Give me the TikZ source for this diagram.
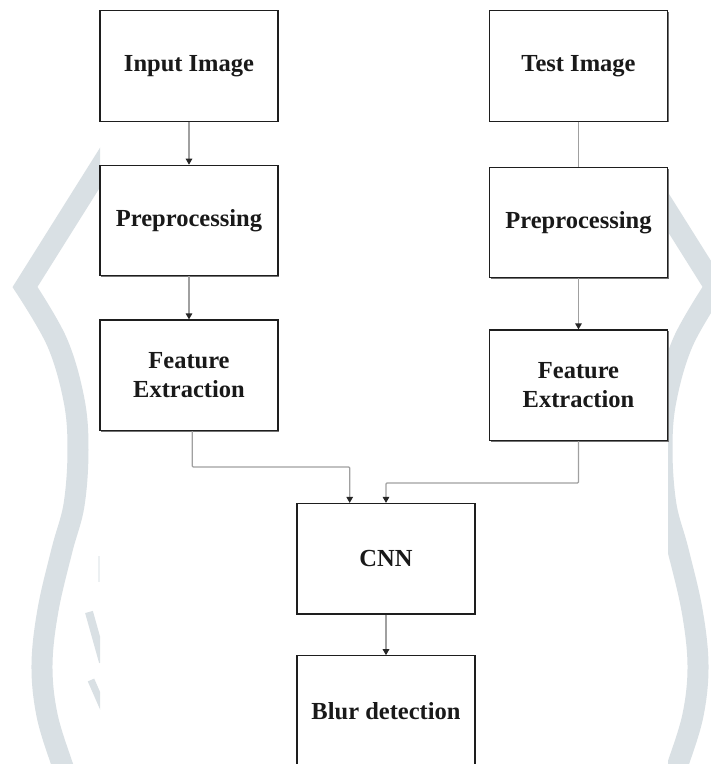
\documentclass[tikz,border=0pt]{standalone}
\usepackage{fontspec}
\setmainfont{Liberation Serif}
\usetikzlibrary{arrows.meta,shadows}
\definecolor{wmark}{RGB}{217,224,228}
\definecolor{wmarklight}{RGB}{236,240,242}
\definecolor{linkgray}{RGB}{160,160,160}
\definecolor{boxline}{RGB}{30,30,30}

\begin{document}
\begin{tikzpicture}[x=1pt,y=-1pt,
  stage/.style={draw=boxline, line width=1.1pt, fill=white,
    minimum width=178pt, minimum height=110.5pt, inner sep=0pt,
    align=center, font=\fontsize{24.5}{29}\selectfont\bfseries, text=black!90,
    drop shadow={shadow xshift=1.3pt, shadow yshift=-1.3pt, fill=black!55, opacity=1}},
  link/.style={draw=linkgray, line width=1.2pt, rounded corners=1pt},
  arr/.style={link, -{Triangle[width=6.5pt,length=6pt,color=black!85]}},
  band/.style={draw=wmark, line width=21pt, line join=miter, miter limit=10}
]
% page
\fill[white] (0,0) rectangle (711,764);
\useasboundingbox (0,0) rectangle (711,764);

% background emblem, left half
\begin{scope}
  \clip (0,0) rectangle (100,764);
  \draw[band] (111,150) -- plot[smooth, tension=0.6] coordinates
    {(25,287) (57,342) (74,400) (78,450) (74,505) (62,550) (48,610) (42,665) (47,715) (62,764) (72,790)};
  \draw[wmark, line width=8pt] (89,612) -- (103,662);
  \draw[wmark, line width=7pt] (91,680) -- (105,712);
  \fill[wmarklight] (98,556) rectangle (100,582);
\end{scope}
% background emblem, right half
\begin{scope}
  \clip (668,0) rectangle (711,764);
  \begin{scope}[xshift=740pt, xscale=-1]
    \draw[band] (111,150) -- plot[smooth, tension=0.6] coordinates
      {(25,287) (57,342) (74,400) (78,450) (74,505) (62,550) (48,610) (42,665) (47,715) (62,764) (72,790)};
  \end{scope}
\end{scope}

% stages
\node[stage] (inimg)   at (189,65.8)    {Input Image};
\node[stage] (testimg) at (578.5,65.8)  {Test Image};
\node[stage] (prepL)   at (189,220.5)   {Preprocessing};
\node[stage] (prepR)   at (578.5,222.5) {Preprocessing};
\node[stage] (featL)   at (189,375.2)   {Feature\\Extraction};
\node[stage] (featR)   at (578.5,385.2) {Feature\\Extraction};
\node[stage] (cnn)     at (386,558.7)   {CNN};
\node[stage] (blur)    at (386,711)     {Blur detection};

% connectors
\draw[arr]  (inimg.south) -- (prepL.north);
\draw[arr]  (prepL.south) -- (featL.north);
\draw[link] (testimg.south) -- (prepR.north);
\draw[arr]  (prepR.south) -- (featR.north);
\draw[arr]  ([xshift=3.3pt]featL.south) -- ++(0,36) -| ([xshift=-36.3pt]cnn.north);
\draw[arr]  (featR.south) -- ++(0,42) -| (cnn.north);
\draw[arr]  (cnn.south) -- (blur.north);
\end{tikzpicture}
\end{document}
